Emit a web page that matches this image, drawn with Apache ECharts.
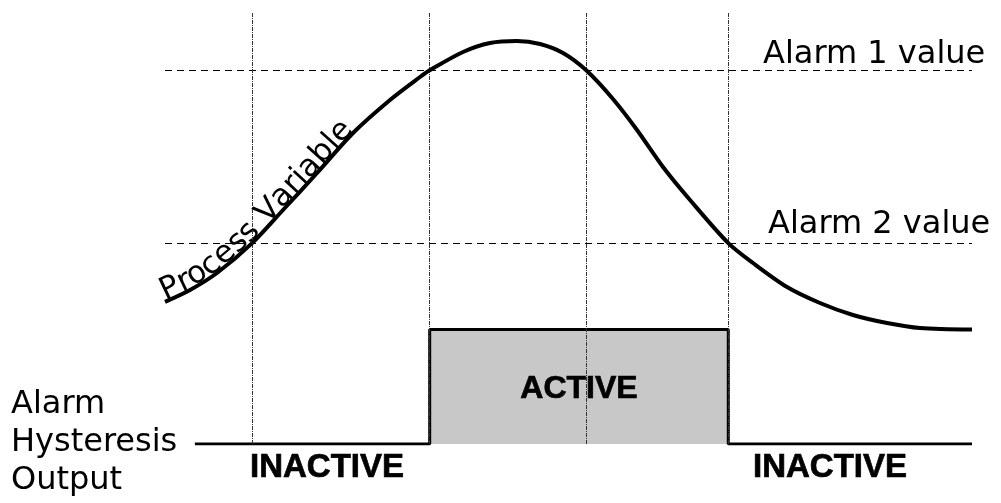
<!DOCTYPE html>
<html>
<head>
<meta charset="utf-8">
<script src="https://cdn.jsdelivr.net/npm/echarts@6/dist/echarts.min.js"></script>
<style>
  html, body { margin: 0; padding: 0; background: #ffffff; }
  #chart { width: 1001px; height: 503px; }
</style>
</head>
<body>
<div id="chart"></div>
<script>
// Process variable trace (time in arbitrary units 0-100, value in % of range)
const pvTime  = [0, 3.1, 6.44, 10.8, 14.62, 18.84, 23.3, 27.88, 31.6, 32.8, 36.93, 40.27, 43.62, 46.47, 49.32, 52.2, 55.51, 58.49, 61.71, 65.06, 69.8, 72.86, 77.08, 81.16, 85.25, 89.47, 93.56, 100];
const pvValue = [32.9, 35.65, 39.58, 46.5, 54.17, 62.73, 71.99, 79.63, 84.95, 86.5, 90.74, 92.82, 93.29, 92.59, 90.51, 86.5, 79.86, 72.69, 64.12, 56.48, 46.5, 41.9, 36.34, 32.64, 29.86, 28.01, 26.85, 26.5];

// Alarm thresholds
const alarmLevels = [86.5, 46.5];
const alarmLabels = ['Alarm 1 value', 'Alarm 2 value'];

// Times where the trace crosses a threshold
const crossTimes = [10.8, 32.8, 52.2, 69.8];

// Alarm output (0 = inactive, 1 = active)
const outTime  = [3.7, 32.8, 32.8, 69.8, 69.8, 100];
const outState = [0, 0, 1, 1, 0, 0];
const activeSpan = [32.8, 69.8];

const outputTitle = ['Alarm', 'Hysteresis', 'Output'];
const stateNames = ['INACTIVE', 'ACTIVE', 'INACTIVE'];
const pvName = 'Process Variable';

const chart = echarts.init(document.getElementById('chart'), null, { renderer: 'canvas' });

const pvData = pvTime.map((t, i) => [t, pvValue[i]]);
const outData = outTime.map((t, i) => [t, outState[i]]);

const plainFont = '"DejaVu Sans", sans-serif';
const boldFont = '"Liberation Sans", Arial, sans-serif';

chart.setOption({
  animation: false,
  backgroundColor: '#ffffff',
  grid: { left: 165, right: 29, top: 12, bottom: 59 },
  xAxis: { type: 'value', min: 0, max: 100, show: false, splitLine: { show: false } },
  yAxis: [
    { type: 'value', min: 0, max: 100, show: false, splitLine: { show: false } },
    { type: 'value', min: 0, max: 3.773, show: false, splitLine: { show: false } }
  ],
  series: [
    {
      name: 'output',
      type: 'line',
      yAxisIndex: 1,
      data: outData,
      symbol: 'none',
      z: 3,
      lineStyle: { color: '#000000', width: 3 },
      markArea: {
        silent: true,
        itemStyle: { color: '#c8c8c8' },
        label: {
          show: true,
          position: 'inside',
          offset: [0, 2],
          color: '#000000',
          fontFamily: boldFont,
          fontWeight: 'bold',
          fontSize: 32,
          textBorderColor: '#000000',
          textBorderWidth: 0.7
        },
        data: [[
          { name: stateNames[1], xAxis: activeSpan[0], yAxis: 0 },
          { xAxis: activeSpan[1], yAxis: 1 }
        ]]
      }
    },
    {
      name: pvName,
      type: 'line',
      yAxisIndex: 0,
      data: pvData,
      smooth: 0.3,
      symbol: 'none',
      z: 5,
      lineStyle: { color: '#000000', width: 4 },
      markLine: {
        silent: true,
        symbol: 'none',
        label: { show: false },
        data: [
          ...alarmLevels.map(v => ({ yAxis: v, lineStyle: { type: [7, 5], color: '#000000', width: 1 } })),
          ...crossTimes.map(t => ({ xAxis: t, lineStyle: { type: [4, 1, 1, 1], color: '#333333', width: 1 } }))
        ]
      }
    }
  ]
});

// Lay the trace name along the curve, letter by letter
function curveLabel(text, font, startOffset, lift) {
  const pts = pvData.map(d => chart.convertToPixel({ xAxisIndex: 0, yAxisIndex: 0 }, d));
  const cum = [0];
  for (let i = 1; i < pts.length; i++) {
    cum.push(cum[i - 1] + Math.hypot(pts[i][0] - pts[i - 1][0], pts[i][1] - pts[i - 1][1]));
  }
  function at(s) {
    let i = 1;
    while (i < cum.length - 1 && cum[i] < s) i++;
    const a = pts[i - 1], b = pts[i];
    const seg = cum[i] - cum[i - 1];
    const f = (s - cum[i - 1]) / seg;
    const ang = Math.atan2(b[1] - a[1], b[0] - a[0]);
    return { x: a[0] + (b[0] - a[0]) * f, y: a[1] + (b[1] - a[1]) * f, ang };
  }
  const ctx = document.createElement('canvas').getContext('2d');
  ctx.font = font;
  const els = [];
  let s = startOffset;
  for (const ch of text) {
    const w = ctx.measureText(ch).width;
    const p = at(s + w / 2);
    // shift along the curve's upward normal
    const nx = Math.sin(p.ang), ny = -Math.cos(p.ang);
    els.push({
      type: 'text',
      x: p.x + nx * lift,
      y: p.y + ny * lift,
      rotation: -p.ang,
      silent: true,
      style: { text: ch, font, fill: '#000000', textAlign: 'center', textVerticalAlign: 'bottom' }
    });
    s += w;
  }
  return els;
}

const labelFont = '31px ' + plainFont;
const heavy = { stroke: '#000000', lineWidth: 0.7 };

const graphics = [
  {
    type: 'text', x: 763, y: 55,
    style: { text: alarmLabels[0], font: '32px ' + plainFont, fill: '#000000', textAlign: 'left', textVerticalAlign: 'middle' }
  },
  {
    type: 'text', x: 768, y: 225,
    style: { text: alarmLabels[1], font: '32px ' + plainFont, fill: '#000000', textAlign: 'left', textVerticalAlign: 'middle' }
  },
  {
    type: 'text', x: 11, y: 443,
    style: { text: outputTitle.join('\n'), font: '32px ' + plainFont, lineHeight: 38, fill: '#000000', textAlign: 'left', textVerticalAlign: 'middle' }
  },
  {
    type: 'text', x: 327, y: 468,
    style: Object.assign({ text: stateNames[0], font: 'bold 33px ' + boldFont, fill: '#000000', textAlign: 'center', textVerticalAlign: 'middle' }, heavy)
  },
  {
    type: 'text', x: 830, y: 468,
    style: Object.assign({ text: stateNames[2], font: 'bold 33px ' + boldFont, fill: '#000000', textAlign: 'center', textVerticalAlign: 'middle' }, heavy)
  },
  ...curveLabel(pvName, labelFont, 1, -6)
];

chart.setOption({ graphic: graphics });
</script>
</body>
</html>
